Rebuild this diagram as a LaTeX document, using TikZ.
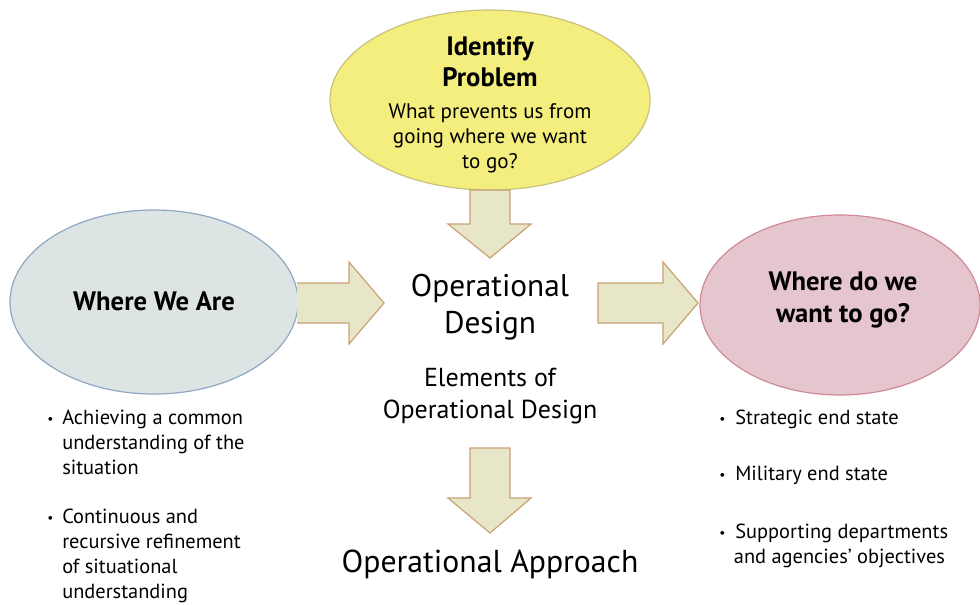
\documentclass[tikz,border=0pt]{standalone}
\usepackage{fontspec}
\setmainfont{PT Sans}
\usetikzlibrary{shapes.geometric}
\definecolor{yelfill}{HTML}{F4EE7E}
\definecolor{yelline}{HTML}{C9C27C}
\definecolor{bluefill}{HTML}{DCE5E4}
\definecolor{blueline}{HTML}{8FA7C2}
\definecolor{pinkfill}{HTML}{E6C6CE}
\definecolor{pinkline}{HTML}{D08A95}
\definecolor{arrfill}{HTML}{E8E6C8}
\definecolor{arrline}{HTML}{C9A172}
\newcommand{\mybul}[1]{\makebox[#1][l]{\raisebox{1.2pt}{\fontsize{10}{10}\selectfont •}}}
\tikzset{
  oval/.style={ellipse, line width=0.9pt, inner sep=0pt},
  blockarrow/.style={fill=arrfill, draw=arrline, line width=0.9pt, line join=miter},
  txt/.style={align=center, inner sep=0pt, text=black},
  bul/.style={align=left, inner sep=0pt, anchor=north west, text=black, font=\fontsize{15.3}{18.75}\selectfont}
}
\begin{document}
\begin{tikzpicture}[x=0.75pt, y=-0.75pt]
\useasboundingbox (0,0) rectangle (980,604);
% ellipses
\node[oval, fill=yelfill, draw=yelline, minimum width=240pt, minimum height=135pt] (prob) at (490,100) {};
\node[oval, fill=bluefill, draw=blueline, minimum width=216pt, minimum height=138pt] (here) at (154,302) {};
\node[oval, fill=pinkfill, draw=pinkline, minimum width=210pt, minimum height=135pt] (goal) at (840,305) {};
% block arrows
\draw[blockarrow] (470,190) -- (510,190) -- (510,224) -- (531,224) -- (490,258) -- (448,224) -- (470,224) -- cycle;
\draw[blockarrow] (297,283) -- (349,283) -- (349,262) -- (384,303) -- (349,344) -- (349,323) -- (297,323);
\draw[blockarrow] (598,283) -- (663,283) -- (663,262) -- (698,303) -- (663,344) -- (663,323) -- (598,323) -- cycle;
\draw[blockarrow] (470,448) -- (510,448) -- (510,498) -- (531,498) -- (490,533) -- (448,498) -- (470,498) -- cycle;
% texts
\node[txt, font=\bfseries\fontsize{20}{23.5}\selectfont] (probT) at (490,62) {Identify\\Problem};
\node[txt, font=\fontsize{15.8}{18.75}\selectfont] (probS) at (490,138) {What prevents us from\\going where we want\\to go?};
\node[txt, font=\bfseries\fontsize{20}{24}\selectfont] (hereT) at (154,301) {Where We Are};
\node[txt, font=\bfseries\fontsize{20}{24}\selectfont] (goalT) at (843,300) {Where do we\\want to go?};
\node[txt, font=\fontsize{23.5}{27.75}\selectfont] (des) at (490,307) {Operational\\Design};
\node[txt, font=\fontsize{19.5}{24}\selectfont] (elem) at (490,396) {Elements of\\Operational Design};
\node[txt, font=\fontsize{23.8}{27}\selectfont] (appr) at (490,564) {Operational Approach};
% left bullets
\node[bul] (lb1) at (47,410) {\mybul{11.25pt}\parbox[t]{150pt}{Achieving a common\\understanding of the\\situation}};
\node[bul] (lb2) at (47,509) {\mybul{11.25pt}\parbox[t]{150pt}{Continuous and\\recursive refinement\\of situational\\understanding}};
% right bullets
\node[bul] (rb1) at (719,410) {\mybul{12pt}Strategic end state};
\node[bul] (rb2) at (719,466) {\mybul{12pt}Military end state};
\node[bul] (rb3) at (719,524) {\mybul{12pt}\parbox[t]{190pt}{Supporting departments\\\hspace*{-1pt}and agencies’ objectives}};
\end{tikzpicture}
\end{document}
